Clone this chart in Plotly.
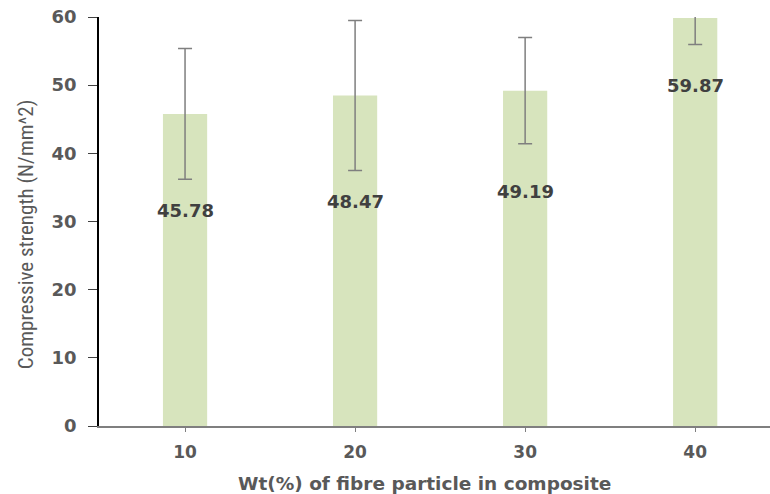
import plotly.graph_objects as go

categories = ["10", "20", "30", "40"]
strength = [45.78, 48.47, 49.19, 59.87]
err_plus = [9.6, 11.0, 7.8, 3.9]
err_minus = [9.6, 11.0, 7.8, 3.9]
label_texts = ["45.78", "48.47", "49.19", "59.87"]
label_shift_px = [-97, -106, -101, -68]
y_ticks = [0, 10, 20, 30, 40, 50, 60]
x_title = "Wt(%) of fibre particle in composite"
y_title = "Compressive strength (N/mm^2)"

fig = go.Figure()
fig.add_trace(go.Bar(
    x=categories, y=strength,
    marker=dict(color="#d7e4bd", line=dict(width=0)),
    error_y=dict(type="data", array=err_plus, arrayminus=err_minus,
                 color="#7f7f7f", thickness=1.5, width=7),
    showlegend=False,
))

for i, (v, t, s) in enumerate(zip(strength, label_texts, label_shift_px)):
    fig.add_annotation(x=i, y=v, xref="x", yref="y", text=t, showarrow=False, yshift=s,
                       font=dict(family="DejaVu Sans", size=18, color="#404040", weight="bold"))

# axis titles as annotations for exact placement
fig.add_annotation(xref="paper", yref="paper", x=0.4845, y=0, yanchor="middle",
                   yshift=-57, text=x_title, showarrow=False,
                   font=dict(family="DejaVu Sans", size=18.5, color="#595959", weight="bold"))
fig.add_annotation(xref="paper", yref="paper", x=0, y=0.469, xanchor="center",
                   xshift=-73, text=y_title, showarrow=False, textangle=-90,
                   font=dict(family="Liberation Sans Narrow, Roboto Condensed, Roboto", size=21, color="#595959"))

fig.update_layout(
    width=770, height=494,
    margin=dict(l=99, r=0, t=17, b=68),
    paper_bgcolor="white", plot_bgcolor="white",
    bargap=0.74,
    xaxis=dict(type="category", range=[-0.506, 3.44],
               showline=True, linecolor="#7f7f7f", linewidth=1.5,
               ticks="outside", ticklen=4, tickcolor="#7f7f7f",
               ticklabelstandoff=6,
               tickfont=dict(family="DejaVu Sans", size=17, color="#595959", weight="bold"),
               showgrid=False, zeroline=False),
    yaxis=dict(range=[0, 60], tickvals=y_ticks,
               showline=True, linecolor="black", linewidth=1.5,
               ticks="outside", ticklen=9, tickcolor="#404040",
               ticklabelstandoff=8,
               tickfont=dict(family="DejaVu Sans", size=18, color="#595959", weight="bold"),
               showgrid=False, zeroline=False),
)

fig.write_html("out.html")
